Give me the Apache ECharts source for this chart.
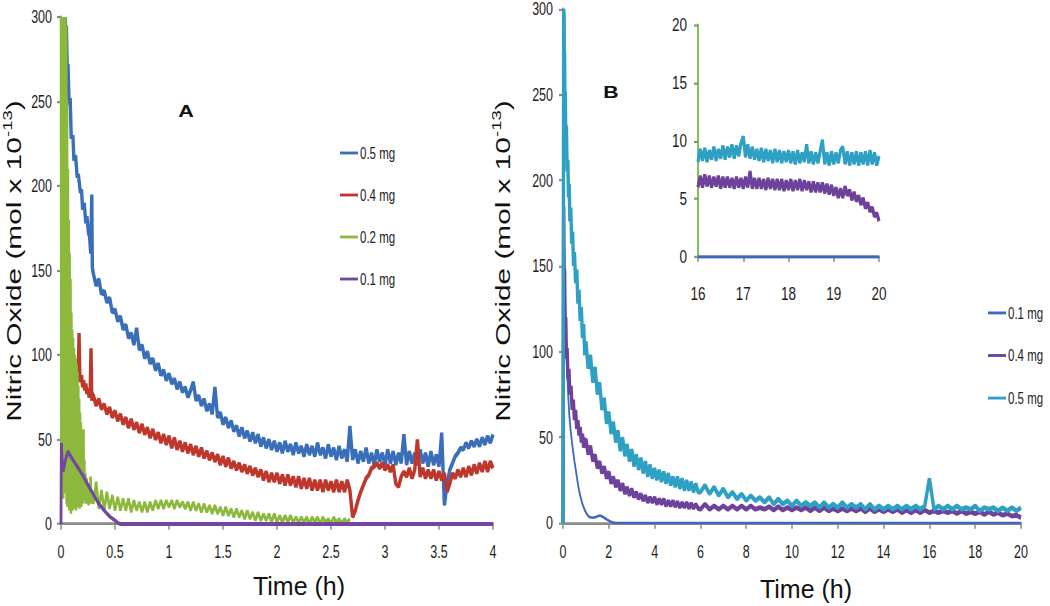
<!DOCTYPE html>
<html>
<head>
<meta charset="utf-8">
<title>Nitric Oxide release</title>
<script src="https://cdn.jsdelivr.net/npm/echarts@6/dist/echarts.min.js"></script>
<style>
	html, body { margin: 0; padding: 0; background: #fff; }
	#wrap { width: 1050px; height: 606px; position: relative; overflow: hidden; }
	/* the source figure is stretched vertically, so the chart is drawn at 427px and scaled up */
	#chart { position: absolute; left: 0; top: 0; width: 1050px; height: 427px; transform: scaleY(1.4192037); transform-origin: 0 0; }
</style>
</head>
<body>
<div id="wrap"><div id="chart"></div></div>
<script>
	const S = 606 / 427;
	const FONT = "'Liberation Sans', Arial, Helvetica, sans-serif";

	// ---- panel A (0 - 4 h) ----
	const dtA = 0.025; // tails start at 0.3 h
	const blueAHead = [[0.04, 300], [0.045, 280], [0.05, 295], [0.06, 262], [0.065, 272], [0.075, 248], [0.085, 252], [0.095, 228],
		[0.11, 230], [0.12, 215], [0.135, 218], [0.15, 205], [0.16, 207], [0.18, 196], [0.19, 198], [0.2, 186], [0.215, 190],
		[0.23, 178], [0.24, 182], [0.255, 172], [0.265, 170], [0.275, 160], [0.285, 195], [0.29, 152]];
	const blueATail = [148, 141, 145, 136, 138, 131, 134, 125, 127, 120,
		123, 115, 118, 110, 113, 106, 116, 103, 106, 98,
		102, 95, 98, 91, 95, 88, 91, 85, 89, 83,
		86, 80, 84, 78, 81, 75, 79, 84, 73, 76,
		70, 74, 67, 71, 65, 81, 63, 66, 59, 63,
		57, 61, 55, 58, 52, 57, 51, 55, 49, 54,
		48, 53, 46, 51, 45, 50, 44, 49, 43, 48,
		42, 49, 43, 47, 41, 48, 42, 46, 40, 47,
		41, 46, 40, 48, 41, 45, 39, 47, 40, 45,
		38, 46, 39, 44, 37, 58, 38, 44, 36, 43,
		37, 45, 36, 42, 35, 44, 37, 42, 35, 44,
		36, 43, 35, 42, 36, 53, 35, 43, 36, 42,
		35, 44, 36, 42, 34, 43, 35, 41, 34, 54,
		11, 24, 32, 36, 40, 42, 45, 44, 48, 45,
		49, 46, 50, 46, 51, 47, 52, 48, 53];

	const redAHead = [[0.04, 230], [0.05, 180], [0.06, 150], [0.07, 135], [0.08, 120], [0.09, 108], [0.1, 100], [0.11, 96],
		[0.12, 92], [0.13, 95], [0.14, 88], [0.15, 91], [0.16, 86], [0.167, 113], [0.175, 84], [0.19, 88], [0.2, 81],
		[0.21, 85], [0.22, 79], [0.23, 83], [0.24, 77], [0.25, 80], [0.26, 75], [0.27, 78], [0.278, 104], [0.285, 73], [0.29, 77]];
	const redATail = [76, 70, 74, 68, 71, 65, 69, 63, 67, 61,
		65, 59, 63, 57, 62, 56, 60, 54, 59, 53,
		57, 51, 56, 50, 54, 48, 53, 47, 52, 45,
		51, 44, 49, 43, 48, 42, 47, 41, 46, 40,
		45, 39, 43, 38, 42, 37, 41, 35, 40, 34,
		39, 33, 37, 32, 36, 31, 35, 30, 34, 29,
		33, 28, 32, 26, 31, 25, 30, 25, 30, 24,
		29, 23, 29, 23, 28, 22, 28, 21, 27, 21,
		27, 20, 26, 20, 26, 19, 26, 20, 25, 19,
		26, 19, 25, 19, 26, 20, 4, 8, 14, 19,
		23, 27, 29, 33, 34, 36, 33, 36, 32, 35,
		31, 35, 24, 22, 28, 31, 28, 33, 27, 32,
		50, 28, 33, 27, 32, 27, 32, 26, 31, 26,
		30, 19, 24, 30, 27, 32, 28, 33, 28, 34,
		29, 35, 30, 36, 31, 37, 31, 37, 33];

	const greenAHead = [[0, 300], [0.004, 20], [0.008, 300], [0.012, 30], [0.016, 300], [0.02, 15], [0.024, 300], [0.028, 25],
		[0.032, 298], [0.036, 18], [0.04, 300], [0.044, 22], [0.048, 295], [0.052, 12], [0.056, 250], [0.06, 10], [0.064, 210],
		[0.068, 14], [0.072, 180], [0.076, 8], [0.08, 160], [0.084, 12], [0.088, 145], [0.092, 6], [0.096, 125], [0.1, 10],
		[0.104, 115], [0.108, 8], [0.112, 110], [0.116, 12], [0.12, 104], [0.124, 9], [0.128, 100], [0.132, 14], [0.136, 98],
		[0.14, 8], [0.144, 95], [0.148, 12], [0.152, 90], [0.156, 10], [0.16, 82], [0.164, 14], [0.168, 74], [0.172, 9],
		[0.176, 66], [0.18, 15], [0.184, 60], [0.188, 10], [0.192, 50], [0.196, 16], [0.2, 44], [0.204, 12], [0.208, 56],
		[0.212, 18], [0.216, 38], [0.22, 14], [0.226, 30], [0.232, 12], [0.238, 27], [0.244, 15], [0.25, 22], [0.256, 11],
		[0.262, 24], [0.268, 13], [0.274, 28], [0.28, 12], [0.286, 20], [0.292, 14]];
	const greenATail = [12, 25, 9, 20, 8, 19, 9, 17, 8, 16,
		8, 15, 8, 15, 7, 14, 8, 13, 7, 13,
		7, 13, 8, 14, 9, 14, 9, 14, 10, 14,
		9, 14, 10, 13, 9, 13, 8, 13, 8, 12,
		7, 12, 7, 11, 6, 11, 6, 10, 5, 10,
		5, 9, 4, 9, 4, 8, 3, 8, 3, 7,
		2, 7, 2, 6, 2, 6, 1, 6, 1, 5,
		1, 5, 1, 5, 1, 4, 1, 4, 1, 4,
		0, 4, 1, 4, 0, 4, 1, 3, 0, 4,
		1, 3, 0, 3, 1, 3];

	const purpleA = [[0, 0], [0.003, 48], [0.01, 38], [0.02, 31], [0.035, 36], [0.05, 40], [0.065, 43], [0.08, 41], [0.1, 39],
		[0.13, 36], [0.16, 33], [0.2, 29], [0.25, 23], [0.3, 17.5], [0.35, 12], [0.4, 8], [0.45, 4.5], [0.5, 2], [0.53, 0.5],
		[0.55, 0], [4, 0]];

	// ---- panel B (0 - 20 h) ----
	// tails: 1.0-5.9 h every 0.1 h, then 6-20 h every 0.2 h
	const blueB = [[0, 0], [0.03, 0], [0.04, 170], [0.08, 140], [0.12, 115], [0.17, 92], [0.22, 76], [0.28, 62], [0.35, 52],
		[0.42, 44], [0.5, 36], [0.58, 29], [0.66, 22], [0.75, 16], [0.85, 11], [0.95, 7.5], [1.05, 5], [1.15, 3.5], [1.3, 3],
		[1.45, 3.5], [1.55, 4.2], [1.65, 4.2], [1.75, 3.5], [1.85, 2.6], [1.95, 1.7], [2.05, 1], [2.2, 0.2], [2.3, 0], [20, 0]];

	const purpleBHead = [[0, 0], [0.02, 0], [0.03, 185], [0.05, 140], [0.07, 148], [0.09, 115], [0.12, 120], [0.15, 96],
		[0.18, 102], [0.22, 84], [0.26, 90], [0.3, 75], [0.35, 80], [0.4, 66], [0.45, 72], [0.5, 60], [0.55, 66], [0.6, 55],
		[0.65, 60], [0.7, 51], [0.75, 56], [0.8, 47], [0.85, 52], [0.9, 44], [0.95, 48]];
	const purpleBMid = [49, 40, 45, 36, 40, 32, 36, 29, 33, 26,
		30, 23, 27, 21, 25, 19, 23, 17, 21, 16,
		20, 15, 18, 14, 17, 13, 16, 12, 15, 12,
		15, 11, 14, 11, 14, 10, 13, 10, 13, 9.5,
		12.5, 9, 12, 9, 12, 8.5, 11.5, 8.5, 11, 8.5];
	const purpleBLate = [8, 11, 8, 10, 8,
		10, 8, 10, 8, 10, 8, 10, 8, 9, 8,
		9.5, 7.5, 9.5, 7.5, 9, 7.5, 9, 7.5, 9, 7,
		9, 7, 9, 7, 8.5, 7, 8.5, 7, 8.5, 7,
		8.5, 6.5, 8.5, 6.5, 8, 6.5, 8, 6.5, 8, 6,
		7.5, 6, 7.5, 6, 7.5, 6, 7, 6, 7, 6,
		7, 5.5, 7, 5.5, 6.5, 5.5, 6.5, 5, 6.5, 5,
		6, 4.5, 5.5, 4, 4.5, 3];

	const tealBHead = [[0, 0], [0.03, 300], [0.05, 296], [0.06, 262], [0.07, 275], [0.08, 248], [0.1, 252], [0.12, 226],
		[0.15, 232], [0.18, 205], [0.21, 212], [0.24, 190], [0.27, 198], [0.3, 176], [0.34, 184], [0.38, 163], [0.42, 170],
		[0.46, 150], [0.5, 158], [0.55, 140], [0.6, 148], [0.65, 128], [0.7, 136], [0.75, 118], [0.8, 126], [0.85, 108],
		[0.9, 116], [0.95, 98]];
	const tealBMid = [106, 90, 98, 82, 91, 75, 82, 66, 73, 58,
		65, 52, 59, 47, 54, 42, 50, 39, 46, 36,
		43, 33, 40, 31, 38, 29, 36, 27, 34, 26,
		32, 25, 31, 24, 30, 23, 29, 22, 27, 21,
		27, 20, 26, 19, 25, 19, 24, 18, 23, 18];
	const tealBLate = [18, 22, 17, 21, 16,
		20, 15, 18, 14, 17, 13, 16, 13, 15, 12,
		15, 11, 14, 11, 13, 10, 13, 10, 12, 10,
		12, 9, 12, 9, 11, 9, 12, 9, 11, 9,
		11, 8, 11, 8, 10, 8, 10, 8, 10, 8,
		10, 8, 10, 8, 10, 26, 8, 10, 8, 10,
		8, 10, 8, 9, 8, 10, 7, 9, 8, 9,
		7, 9, 7, 9, 7, 9];

	// ---- inset (16 - 20 h) ----
	const dtIn = 0.05;
	const insetTeal = [8.2, 9.3, 8.3, 9.4, 8.2, 9.2, 8.4, 9.5, 8.3, 9.3,
		8.5, 9.6, 8.4, 9.5, 8.6, 9.7, 8.5, 9.6, 8.7, 9.8,
		10.4, 8.6, 9.7, 8.5, 9.5, 8.4, 9.3, 8.3, 9.4, 8.2,
		9.3, 8.3, 9.2, 8.1, 9.3, 8.2, 9.2, 8.1, 9.1, 8.2,
		9.2, 8.1, 9.1, 8.0, 9.2, 8.1, 9.0, 8.2, 9.7, 8.1,
		9.1, 8.0, 9.0, 8.1, 9.1, 10.1, 8.0, 9.0, 7.9, 9.1,
		8.0, 9.0, 8.1, 9.2, 9.5, 8.0, 9.1, 7.9, 9.0, 8.0,
		9.1, 7.9, 9.0, 8.0, 9.1, 7.9, 9.2, 8.0, 9.0, 7.9,
		8.7];
	const insetPurple = [6.0, 7.0, 6.0, 7.1, 6.1, 7.0, 6.0, 6.9, 6.1, 7.0,
		5.9, 6.9, 6.0, 6.9, 6.0, 6.8, 5.9, 6.9, 6.0, 6.8,
		5.9, 6.9, 6.0, 7.4, 5.9, 6.8, 5.9, 6.8, 5.9, 6.7,
		5.8, 6.8, 5.9, 6.7, 5.8, 6.7, 5.8, 6.7, 5.7, 6.6,
		5.8, 6.7, 5.7, 6.6, 5.8, 6.7, 5.7, 6.6, 5.8, 6.5,
		5.6, 6.5, 5.6, 6.4, 5.6, 6.4, 5.5, 6.3, 5.4, 6.2,
		5.3, 6.0, 5.1, 5.9, 5.1, 6.1, 5.3, 5.8, 4.9, 5.6,
		4.8, 5.3, 4.5, 5.1, 4.2, 4.7, 3.9, 4.3, 3.5, 3.8,
		3.1];
	const insetBlue = [[16, 0], [20, 0]];

	// attach evenly spaced times to a list of hand-read values
	function timed(values, t0, dt) {
		return values.map((v, i) => [+(t0 + i * dt).toFixed(3), v]);
	}

	function line(name, data, color, width, idx, z) {
		return {
			name: name,
			type: 'line',
			xAxisIndex: idx,
			yAxisIndex: idx,
			data: data,
			symbol: 'none',
			showSymbol: false,
			color: color,
			lineStyle: { color: color, width: width, join: 'bevel' },
			silent: true,
			z: z || 2
		};
	}

	const GRAY = '#8a8a8a';
	function axis(grid, min, max, interval, margin, tickLen, size, lineColor) {
		return {
			type: 'value',
			gridIndex: grid,
			min: min,
			max: max,
			interval: interval,
			axisLine: { show: true, lineStyle: { color: lineColor || GRAY, width: 2 } },
			axisTick: { show: true, length: tickLen, lineStyle: { color: GRAY, width: 1.5 } },
			axisLabel: { margin: margin, fontSize: size, color: '#1e1e1e', fontFamily: FONT },
			splitLine: { show: false }
		};
	}

	const yTitle = '{t|Nitric Oxide (mol x 10}{s|-13}{t|)}';
	const yTitleRich = {
		t: { fontSize: 21, fontFamily: FONT, fill: '#111', lineHeight: 26 },
		s: { fontSize: 13, fontFamily: FONT, fill: '#111', lineHeight: 14, verticalAlign: 'top' }
	};

	const option = {
		animation: false,
		backgroundColor: '#fff',
		grid: [
			{ left: 61, top: 12, width: 432, height: 357.2, outerBoundsMode: 'none' },
			{ left: 563, top: 6.3, width: 458, height: 362.2, outerBoundsMode: 'none' },
			{ left: 698, top: 17.6, width: 181, height: 163.5, outerBoundsMode: 'none' }
		],
		xAxis: [
			axis(0, 0, 4, 0.5, 13, 4, 12.5),
			axis(1, 0, 20, 2, 13.5, 4, 12.5),
			axis(2, 16, 20, 1, 19, 3.5, 13.5)
		],
		yAxis: [
			axis(0, 0, 300, 50, 9, 4, 12.5),
			axis(1, 0, 300, 50, 10, 4, 12.5),
			axis(2, 0, 20, 5, 11, 4, 13.5, '#86c05a')
		],
		legend: [{
			data: ['0.5 mg', '0.4 mg', '0.2 mg', '0.1 mg'],
			orient: 'vertical',
			left: 340,
			top: 100.8,
			padding: 0,
			icon: 'rect',
			itemWidth: 18,
			itemHeight: 2,
			itemGap: 15.6,
			textStyle: { fontSize: 11.5, lineHeight: 14, color: '#222', fontFamily: FONT, padding: [0, 0, 0, -3] }
		}, {
			data: ['0.1 mg (B)', '0.4 mg (B)', '0.5 mg (B)'],
			formatter: name => name.replace(' (B)', ''),
			orient: 'vertical',
			left: 988,
			top: 213.5,
			padding: 0,
			icon: 'rect',
			itemWidth: 18,
			itemHeight: 2,
			itemGap: 16,
			textStyle: { fontSize: 11.5, lineHeight: 14, color: '#222', fontFamily: FONT, padding: [0, 0, 0, -3] }
		}],
		graphic: [
			{ type: 'text', x: 14, y: 184, rotation: Math.PI / 2,
				style: { text: yTitle, rich: yTitleRich, align: 'center', verticalAlign: 'middle' } },
			{ type: 'text', x: 503, y: 184, rotation: Math.PI / 2,
				style: { text: yTitle, rich: yTitleRich, align: 'center', verticalAlign: 'middle' } },
			{ type: 'text', x: 299, y: 412.9, scaleY: 1 / S,
				style: { text: 'Time (h)', fontSize: 25, fontFamily: FONT, fill: '#111', align: 'center', verticalAlign: 'middle' } },
			{ type: 'text', x: 806, y: 415, scaleY: 1 / S,
				style: { text: 'Time (h)', fontSize: 25, fontFamily: FONT, fill: '#111', align: 'center', verticalAlign: 'middle' } },
			{ type: 'text', x: 186, y: 78.9, scaleX: 1.35, scaleY: 1 / S,
				style: { text: 'A', fontSize: 16, fontWeight: 'bold', fontFamily: FONT, fill: '#111', align: 'center', verticalAlign: 'middle' } },
			{ type: 'text', x: 611, y: 64.8, scaleX: 1.25, scaleY: 1 / S,
				style: { text: 'B', fontSize: 17, fontWeight: 'bold', fontFamily: FONT, fill: '#111', align: 'center', verticalAlign: 'middle' } }
		],
		series: [
			line('0.5 mg', blueAHead.concat(timed(blueATail, 0.3, dtA)), '#3a6eb9', 3.4, 0),
			line('0.4 mg', redAHead.concat(timed(redATail, 0.3, dtA)), '#be372d', 3.4, 0),
			line('0.2 mg', greenAHead.concat(timed(greenATail, 0.3, dtA)), '#8cb93c', 2.6, 0),
			line('0.1 mg', purpleA, '#7346a0', 2.8, 0),

			line('0.1 mg (B)', blueB, '#3c69be', 1.8, 1),
			line('0.4 mg (B)', purpleBHead.concat(timed(purpleBMid, 1.0, 0.1), timed(purpleBLate, 6.0, 0.2)), '#6e419b', 3.4, 1),
			line('0.5 mg (B)', tealBHead.concat(timed(tealBMid, 1.0, 0.1), timed(tealBLate, 6.0, 0.2)), '#2da0c3', 3.4, 1),

			line('inset 0.1 mg', insetBlue, '#3c69be', 2.2, 2),
			line('inset 0.4 mg', timed(insetPurple, 16, dtIn), '#6e419b', 3.2, 2),
			line('inset 0.5 mg', timed(insetTeal, 16, dtIn), '#2da0c3', 3.2, 2)
		]
	};

	const chart = echarts.init(document.getElementById('chart'), null, { renderer: 'svg' });
	chart.setOption(option);
</script>
</body>
</html>
